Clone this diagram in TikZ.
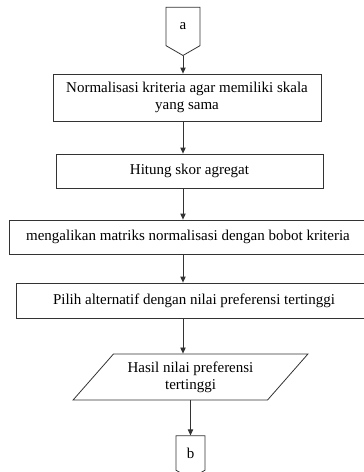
\documentclass[tikz,border=0pt]{standalone}
\usepackage{fontspec}
\setmainfont{Liberation Serif}
\usetikzlibrary{arrows.meta,shapes.geometric,shapes.symbols}
\begin{document}
\begin{tikzpicture}
	[
		x=0.75pt, y=-0.75pt,
		every node/.style = {
			draw=black!80, line width=.6pt, align=center,
			font=\fontsize{11.25}{12.9}\selectfont, inner sep=1pt
		},
		prosesbox/.style = {shape=rectangle, minimum height=25.5pt},
		keluaran/.style = {shape=trapezium, trapezium left angle=45,
			trapezium right angle=135, trapezium stretches=true},
		konektor/.style = {shape=signal, signal to=south, signal from=nothing,
			signal pointer angle=120, minimum width=25.5pt},
		panah/.style = {draw=black!80, line width=.6pt,
			-{Triangle[length=4.5pt,width=4pt]}}
	]
	\useasboundingbox (0,0) rectangle (364,472);
	\node[konektor, minimum height=30.75pt] (a) at (183,26.5) {a};
	\node[prosesbox, minimum width=201pt, minimum height=35.25pt] (normal) at (187,97.5)
		{Normalisasi kriteria agar memiliki skala\\yang sama};
	\node[prosesbox, minimum width=200.25pt] (skor) at (189.5,171) {Hitung skor agregat};
	\node[prosesbox, minimum width=268.5pt] (kali) at (188,237)
		{mengalikan matriks normalisasi dengan bobot kriteria};
	\node[prosesbox, minimum width=267pt, minimum height=26.25pt] (pilih) at (194,300.5)
		{Pilih alternatif dengan nilai preferensi tertinggi};
	\node[keluaran, minimum width=176.25pt, minimum height=34.5pt] (hasil) at (190.5,377)
		{Hasil nilai preferensi\\tertinggi};
	\node[konektor, minimum width=21.75pt, minimum height=28pt] (b) at (190.5,453) {b};
	% alur
	\draw[panah] (a.south) -- (a.south |- normal.north);
	\draw[panah] (a.south |- normal.south) -- (a.south |- skor.north);
	\draw[panah] (a.south |- skor.south) -- (a.south |- kali.north);
	\draw[panah] (a.south |- kali.south) -- (a.south |- pilih.north);
	\draw[panah] (a.south |- pilih.south) -- (a.south |- hasil.north);
	\draw[panah] (b.north |- hasil.south) -- (b.north);
\end{tikzpicture}
\end{document}
